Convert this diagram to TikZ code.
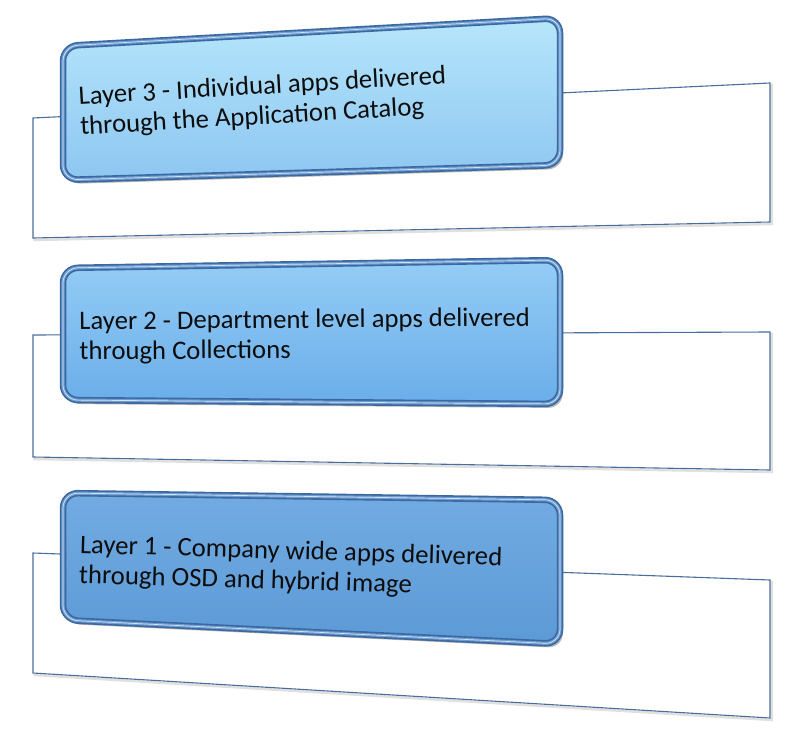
\documentclass[tikz,border=0pt]{standalone}
\usepackage{fontspec}
\setmainfont{Carlito}
\usetikzlibrary{calc}

\definecolor{panelline}{HTML}{4A6E9C}
\definecolor{boxdark}{HTML}{3A68A0}
\definecolor{boxmid}{HTML}{6E9DD2}
\definecolor{layerthreetop}{HTML}{B6E6FB}
\definecolor{layerthreebot}{HTML}{8DC6F1}
\definecolor{layertwotop}{HTML}{94CDF6}
\definecolor{layertwobot}{HTML}{6AADE9}
\definecolor{layeronetop}{HTML}{72ABE2}
\definecolor{layeronebot}{HTML}{5C9AD6}

\tikzset{
  panel/.style={draw=panelline, line width=1.1pt, fill=white,
    preaction={draw=black!12, line width=2.5pt, transform canvas={xshift=1.5pt,yshift=-2pt}}},
  layerbox/.style n args={2}{rounded corners=15pt, top color=#1, bottom color=#2,
    preaction={fill=black!70, fill opacity=0.4, transform canvas={xshift=3pt,yshift=-4pt}},
    postaction={draw=boxdark, line width=6.5pt},
    postaction={draw=boxmid, line width=3.2pt},
    postaction={draw=white, draw opacity=0.7, line width=0.7pt}},
  layertext/.style={anchor=west, align=left, text=black!95,
    font=\fontsize{26.7}{30}\selectfont}
}

\begin{document}
\begin{tikzpicture}[x=1pt,y=-1pt]
\useasboundingbox (0,0) rectangle (792,741);

\draw[panel] (33,118) -- (770,83) -- (770,222) -- (33,238) -- cycle;
\path[layerbox={layerthreetop}{layerthreebot}] (63,46) -- (560,18) -- (560,165) -- (63,180) -- cycle;
\node[layertext, rotate=3.3] (layerthree) at (76,113) {Layer 3 - Individual apps delivered\\through the Application Catalog};

\draw[panel] (33,335) -- (770,332) -- (770,470) -- (33,457) -- cycle;
\path[layerbox={layertwotop}{layertwobot}] (63,268) -- (560,260) -- (560,404) -- (63,400) -- cycle;
\node[layertext, rotate=0.5] (layertwo) at (76,338) {Layer 2 - Department level apps delivered\\through Collections};

\draw[panel] (33,553) -- (770,580) -- (770,718) -- (33,673) -- cycle;
\path[layerbox={layeronetop}{layeronebot}] (63,493) -- (560,500) -- (560,644) -- (63,620) -- cycle;
\node[layertext, rotate=-1.7] (layerone) at (76,561) {Layer 1 - Company wide apps delivered\\through OSD and hybrid image};
\end{tikzpicture}
\end{document}
